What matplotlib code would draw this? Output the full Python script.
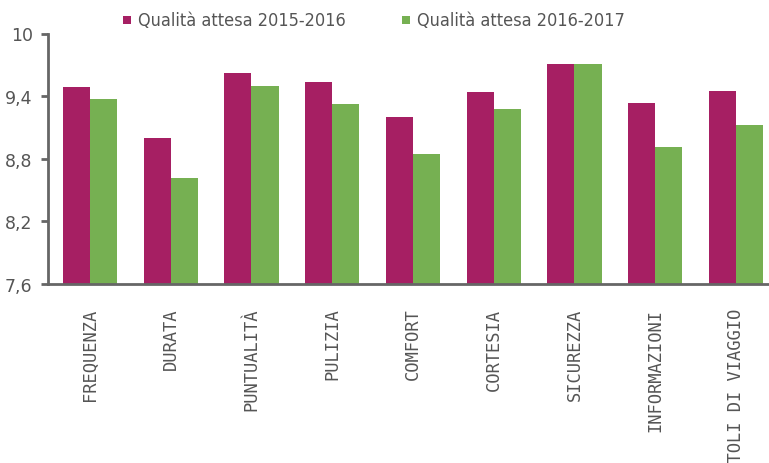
import matplotlib
matplotlib.use("Agg")
import matplotlib.pyplot as plt
from matplotlib.patches import Rectangle
import numpy as np

categories = ["FREQUENZA", "DURATA", "PUNTUALITÀ", "PULIZIA", "COMFORT",
              "CORTESIA", "SICUREZZA", "INFORMAZIONI", "TITOLI DI VIAGGIO"]
q_2015_2016 = [9.49, 9.00, 9.62, 9.54, 9.20, 9.44, 9.71, 9.33, 9.45]
q_2016_2017 = [9.37, 8.62, 9.50, 9.32, 8.85, 9.28, 9.71, 8.91, 9.12]
series_names = ["Qualità attesa 2015-2016", "Qualità attesa 2016-2017"]
yticks = [7.6, 8.2, 8.8, 9.4, 10]
ytick_labels = ["7,6", "8,2", "8,8", "9,4", "10"]

c1 = "#A61F63"
c2 = "#76B052"
grey = "#666666"
txt = "#555555"

W, H = 769, 464
fig = plt.figure(figsize=(W / 100, H / 100), dpi=100)
ax = fig.add_axes([48 / W, (H - 285) / H, (W - 48) / W, (285 - 34.5) / H])

x = np.arange(len(categories))
bw = 0.335
ax.bar(x - bw / 2, q_2015_2016, width=bw, color=c1)
ax.bar(x + bw / 2, q_2016_2017, width=bw, color=c2)

ax.set_ylim(7.6, 10)
ax.set_xlim(-0.52, -0.52 + (W - 48) / 80.75)
ax.set_yticks(yticks)
ax.set_yticklabels(ytick_labels, fontsize=12.5, color=txt, family="DejaVu Sans")
ax.set_xticks(x)
ax.set_xticklabels(categories, rotation=90, fontsize=12.3, color=txt,
                   family="DejaVu Sans Mono", va="top", ha="center")
ax.tick_params(axis="x", length=0, pad=17)
ax.tick_params(axis="y", length=5, width=2, color=grey, pad=6, direction="out")

for s in ["top", "right"]:
    ax.spines[s].set_visible(False)
for s in ["left", "bottom"]:
    ax.spines[s].set_color(grey)
    ax.spines[s].set_linewidth(2)

# legend (manual placement to match reference)
leg_y = 1 - 20.5 / H
for (mx, tx), name, col in zip([(123, 138), (402, 417)], series_names, (c1, c2)):
    fig.add_artist(Rectangle((mx / W, 1 - 25 / H), 8 / W, 8 / H,
                             transform=fig.transFigure, color=col, lw=0))
    fig.text(tx / W, leg_y, name, ha="left", va="center", color=txt,
             family="DejaVu Sans", stretch="condensed", fontsize=13)

fig.savefig("out.png", dpi=100)
